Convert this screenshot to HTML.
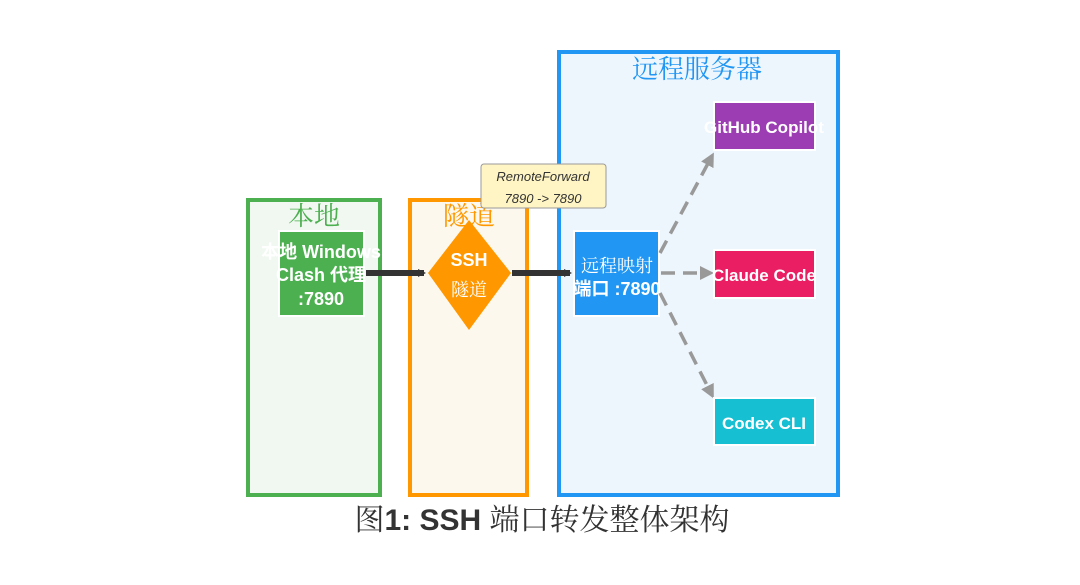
<!DOCTYPE html>
<html><head><meta charset="utf-8"><style>
html,body{margin:0;padding:0;background:#fff;}
svg{display:block;}
.cn{font-family:"Liberation Serif","Noto Serif CJK SC",serif;}
.b{font-family:"Liberation Sans","Noto Sans CJK SC",sans-serif;font-weight:bold;}
</style></head><body>
<svg width="1080" height="585" viewBox="0 0 1080 585" xmlns="http://www.w3.org/2000/svg">
<defs>
<marker id="ab" markerWidth="8" markerHeight="8" refX="6" refY="4" orient="auto" markerUnits="userSpaceOnUse" viewBox="0 0 8 8"><path d="M0,0 L8,4 L0,8 z" fill="#333"/></marker>
<marker id="ag" markerWidth="14" markerHeight="14" refX="10" refY="7" orient="auto" markerUnits="userSpaceOnUse"><path d="M0,0 L14,7 L0,14 z" fill="#999"/></marker>
</defs>
<rect x="248" y="200" width="132" height="295" fill="#f1f8f1" stroke="#4caf50" stroke-width="4"/>
<rect x="410" y="200" width="117" height="295" fill="#fdf8ee" stroke="#ff9800" stroke-width="4"/>
<rect x="559" y="52" width="279" height="443" fill="#eef6fd" stroke="#2196f3" stroke-width="4"/>
<text x="314" y="225" text-anchor="middle" class="cn" font-size="26" fill="#4caf50">本地</text>
<text x="469" y="225" text-anchor="middle" class="cn" font-size="26" fill="#ff9800">隧道</text>
<text x="697" y="78" text-anchor="middle" class="cn" font-size="26" fill="#2196f3">远程服务器</text>
<rect x="279" y="231" width="85" height="85" fill="#4caf50" stroke="#fff" stroke-width="2"/>
<text x="321" y="258" text-anchor="middle" class="b" font-size="18" fill="#fff">本地 Windows</text>
<text x="321" y="281" text-anchor="middle" class="b" font-size="18" fill="#fff">Clash 代理</text>
<text x="321" y="305" text-anchor="middle" class="b" font-size="18" fill="#fff">:7890</text>
<path d="M469,220 L511,273 L469,330 L428,273 z" fill="#ff9800"/>
<text x="469" y="266" text-anchor="middle" class="b" font-size="18" fill="#fff">SSH</text>
<text x="469" y="296" text-anchor="middle" class="cn" font-size="18" fill="#fff">隧道</text>
<rect x="574" y="231" width="85" height="85" fill="#2196f3" stroke="#fff" stroke-width="2"/>
<text x="617" y="272" text-anchor="middle" class="cn" font-size="18" fill="#fff">远程映射</text>
<text x="617" y="295" text-anchor="middle" class="b" font-size="18" fill="#fff">端口 :7890</text>
<line x1="366" y1="273" x2="424" y2="273" stroke="#333" stroke-width="6" marker-end="url(#ab)"/>
<line x1="512" y1="273" x2="570" y2="273" stroke="#333" stroke-width="6" marker-end="url(#ab)"/>
<line x1="660" y1="253" x2="712" y2="156" stroke="#999" stroke-width="3.5" stroke-dasharray="14,8" marker-end="url(#ag)"/>
<line x1="661" y1="273" x2="710" y2="273" stroke="#999" stroke-width="3.5" stroke-dasharray="14,8" marker-end="url(#ag)"/>
<line x1="660" y1="293" x2="712" y2="395" stroke="#999" stroke-width="3.5" stroke-dasharray="14,8" marker-end="url(#ag)"/>
<rect x="714" y="102" width="101" height="48" fill="#9c3db3" stroke="#fff" stroke-width="2"/>
<text x="764" y="133" text-anchor="middle" class="b" font-size="17" fill="#fff">GitHub Copilot</text>
<rect x="714" y="250" width="101" height="48" fill="#e91e63" stroke="#fff" stroke-width="2"/>
<text x="764" y="281" text-anchor="middle" class="b" font-size="17" fill="#fff">Claude Code</text>
<rect x="714" y="398" width="101" height="47" fill="#17bfd3" stroke="#fff" stroke-width="2"/>
<text x="764" y="429" text-anchor="middle" class="b" font-size="17" fill="#fff">Codex CLI</text>
<rect x="481" y="164" width="125" height="44" rx="3" fill="#fff5c4" stroke="#999" stroke-width="1"/>
<text x="543" y="181" text-anchor="middle" font-family="Liberation Sans,sans-serif" font-style="italic" font-size="13" fill="#333">RemoteForward</text>
<text x="543" y="203" text-anchor="middle" font-family="Liberation Sans,sans-serif" font-style="italic" font-size="13" fill="#333">7890 -&gt; 7890</text>
<text x="542" y="530" text-anchor="middle" class="b" font-size="30" fill="#333"><tspan class="cn" font-weight="normal">图</tspan>1: SSH <tspan class="cn" font-weight="normal">端口转发整体架构</tspan></text>
</svg>
</body></html>
